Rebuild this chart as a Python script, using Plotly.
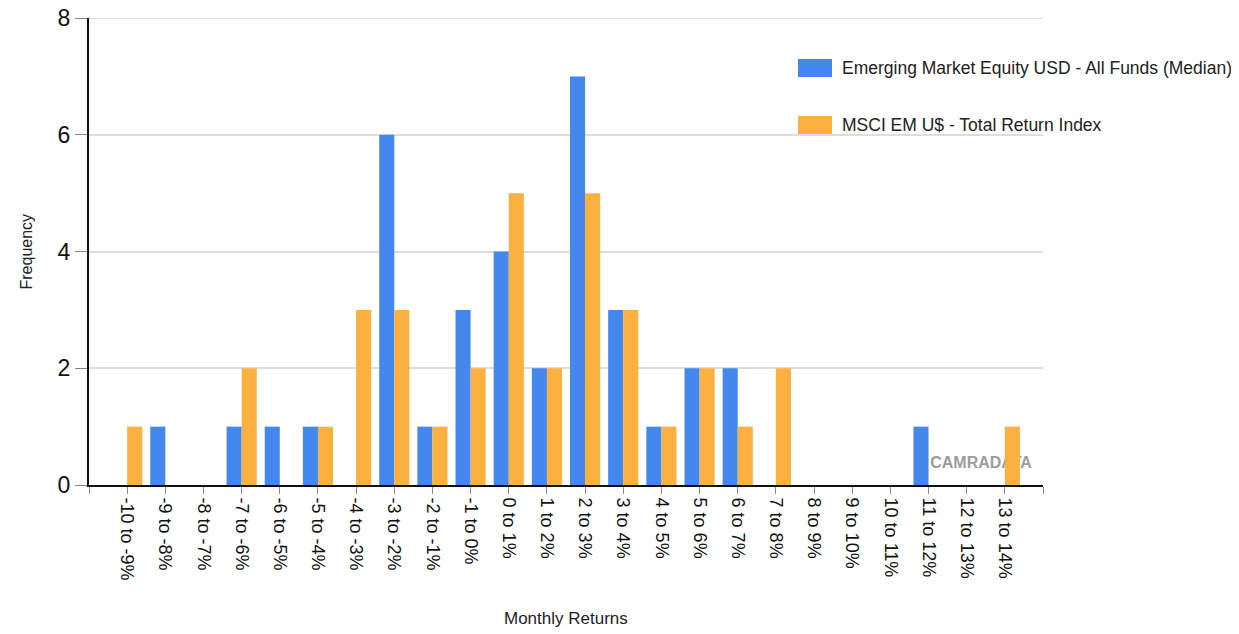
import plotly.graph_objects as go

categories = ["-10 to -9%", "-9 to -8%", "-8 to -7%", "-7 to -6%", "-6 to -5%", "-5 to -4%",
              "-4 to -3%", "-3 to -2%", "-2 to -1%", "-1 to 0%", "0 to 1%", "1 to 2%",
              "2 to 3%", "3 to 4%", "4 to 5%", "5 to 6%", "6 to 7%", "7 to 8%",
              "8 to 9%", "9 to 10%", "10 to 11%", "11 to 12%", "12 to 13%", "13 to 14%"]
funds_median = [0, 1, 0, 1, 1, 1, 0, 6, 1, 3, 4, 2, 7, 3, 1, 2, 2, 0, 0, 0, 0, 1, 0, 0]
msci_em = [1, 0, 0, 2, 0, 1, 3, 3, 1, 2, 5, 2, 5, 3, 1, 2, 1, 2, 0, 0, 0, 0, 0, 1]
series_names = ["Emerging Market Equity USD - All Funds (Median)", "MSCI EM U$ - Total Return Index"]
series_colors = ["#4387EF", "#FBB03F"]
y_ticks = [0, 2, 4, 6, 8]

# page body offsets the figure by 8px; lay out in target pixel coordinates
OFF = 8
W, H = 1239 - OFF, 634 - OFF
PL, PR, PT, PB = 89, 1043, 18, 485  # plot area in target pixels
ML, MT = PL - OFF, PT - OFF
MR, MB = W - (PR - OFF), H - (PB - OFF)
PW, PH = PR - PL, PB - PT
FONT = "Liberation Sans, Arial, sans-serif"

xpos = list(range(len(categories)))
tickvals = [-1] + xpos + [len(categories)]
ticktext = [""] + categories + [""]

fig = go.Figure()
for name, vals, col in zip(series_names, [funds_median, msci_em], series_colors):
    fig.add_trace(go.Bar(x=xpos, y=vals, name=name, marker_color=col,
                         marker_line_width=0, showlegend=False))

def px_x(p):
    return (p - PL) / PW

def px_y(p):
    return (PB - p) / PH

shapes = [dict(type="rect", xref="paper", yref="paper", x0=px_x(921), x1=px_x(1041),
               y0=px_y(472), y1=px_y(448),
               line=dict(width=0), fillcolor="rgba(0,0,0,0)", layer="below",
               label=dict(text="<b>CAMRADATA</b>", textposition="middle center",
                          font=dict(size=16, color="#9c9c9c", family=FONT))),
          dict(type="line", xref="paper", yref="y", x0=0, x1=1, y0=y_ticks[-1], y1=y_ticks[-1],
               line=dict(color="#dddddd", width=2), layer="below")]
annotations = [
    dict(text="Monthly Returns", xref="paper", yref="paper", x=0.5, y=px_y(618),
         showarrow=False, font=dict(size=17, color="#222", family=FONT), xanchor="center", yanchor="middle"),
    dict(text="Frequency", xref="paper", yref="paper", x=px_x(26), y=0.5, textangle=-90,
         showarrow=False, font=dict(size=16, color="#222", family=FONT), xanchor="center", yanchor="middle"),
]
legend_rows = [68, 125]
for name, col, yc in zip(series_names, series_colors, legend_rows):
    shapes.append(dict(type="rect", xref="paper", yref="paper", x0=px_x(798), x1=px_x(832),
                       y0=px_y(yc + 9), y1=px_y(yc - 9), fillcolor=col, line=dict(width=0)))
    annotations.append(dict(text=name, xref="paper", yref="paper", x=px_x(840), y=px_y(yc),
                            xanchor="left", yanchor="middle", showarrow=False,
                            font=dict(size=17.5, color="#222", family=FONT)))

fig.update_layout(
    width=W, height=H,
    margin=dict(l=ML, r=MR, t=MT, b=MB, autoexpand=False),
    paper_bgcolor="white", plot_bgcolor="white",
    barmode="group", bargap=0.21, bargroupgap=0,
    font=dict(family=FONT, color="#222"),
    showlegend=False,
    xaxis=dict(range=[-1, len(categories)], tickmode="array", tickvals=tickvals,
               ticktext=ticktext, tickangle=90, tickfont=dict(size=18, color="#111"),
               ticks="outside", ticklen=7, tickcolor="#888", tickwidth=1,
               showline=True, linecolor="#111", linewidth=2, showgrid=False, zeroline=False,
               automargin=False),
    yaxis=dict(range=[0, 8], tickmode="array", tickvals=y_ticks,
               tickfont=dict(size=23, color="#111"), ticklabeloverflow="allow",
               ticks="outside", ticklen=12, tickcolor="#888", tickwidth=1,
               showline=True, linecolor="#111", linewidth=2,
               showgrid=True, gridcolor="#dddddd", gridwidth=2, zeroline=False,
               automargin=False),
    shapes=shapes,
    annotations=annotations,
)

fig.write_html("out.html")
